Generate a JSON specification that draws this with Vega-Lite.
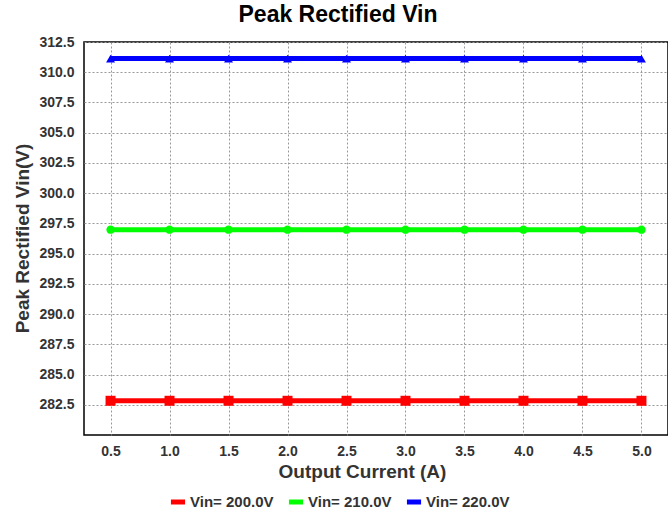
{
  "$schema": "https://vega.github.io/schema/vega-lite/v6.json",
  "autosize": "none",
  "width": 584,
  "height": 393,
  "padding": {"left": 84, "top": 42, "right": 0, "bottom": 75},
  "background": "white",
  "title": {
    "text": "Peak Rectified Vin",
    "font": "Liberation Sans",
    "fontSize": 23,
    "fontWeight": "bold",
    "color": "black",
    "anchor": "middle",
    "frame": "group",
    "dx": -38,
    "offset": 8
  },
  "config": {
    "view": {"stroke": "black", "strokeWidth": 1.5},
    "axis": {
      "labelFont": "Liberation Sans",
      "labelFontWeight": "bold",
      "labelFontSize": 14,
      "labelColor": "#333333",
      "titleFont": "Liberation Sans",
      "titleFontWeight": "bold",
      "titleColor": "#333333",
      "grid": true,
      "gridColor": "#999999",
      "gridDash": [2, 2],
      "gridWidth": 1,
      "ticks": false,
      "domain": false
    }
  },
  "data": {
    "values": [
      {"current": 0.5, "vin": 282.83, "series": "Vin= 200.0V"},
      {"current": 1.0, "vin": 282.83, "series": "Vin= 200.0V"},
      {"current": 1.5, "vin": 282.83, "series": "Vin= 200.0V"},
      {"current": 2.0, "vin": 282.83, "series": "Vin= 200.0V"},
      {"current": 2.5, "vin": 282.83, "series": "Vin= 200.0V"},
      {"current": 3.0, "vin": 282.83, "series": "Vin= 200.0V"},
      {"current": 3.5, "vin": 282.83, "series": "Vin= 200.0V"},
      {"current": 4.0, "vin": 282.83, "series": "Vin= 200.0V"},
      {"current": 4.5, "vin": 282.83, "series": "Vin= 200.0V"},
      {"current": 5.0, "vin": 282.83, "series": "Vin= 200.0V"},
      {"current": 0.5, "vin": 296.98, "series": "Vin= 210.0V"},
      {"current": 1.0, "vin": 296.98, "series": "Vin= 210.0V"},
      {"current": 1.5, "vin": 296.98, "series": "Vin= 210.0V"},
      {"current": 2.0, "vin": 296.98, "series": "Vin= 210.0V"},
      {"current": 2.5, "vin": 296.98, "series": "Vin= 210.0V"},
      {"current": 3.0, "vin": 296.98, "series": "Vin= 210.0V"},
      {"current": 3.5, "vin": 296.98, "series": "Vin= 210.0V"},
      {"current": 4.0, "vin": 296.98, "series": "Vin= 210.0V"},
      {"current": 4.5, "vin": 296.98, "series": "Vin= 210.0V"},
      {"current": 5.0, "vin": 296.98, "series": "Vin= 210.0V"},
      {"current": 0.5, "vin": 311.13, "series": "Vin= 220.0V"},
      {"current": 1.0, "vin": 311.13, "series": "Vin= 220.0V"},
      {"current": 1.5, "vin": 311.13, "series": "Vin= 220.0V"},
      {"current": 2.0, "vin": 311.13, "series": "Vin= 220.0V"},
      {"current": 2.5, "vin": 311.13, "series": "Vin= 220.0V"},
      {"current": 3.0, "vin": 311.13, "series": "Vin= 220.0V"},
      {"current": 3.5, "vin": 311.13, "series": "Vin= 220.0V"},
      {"current": 4.0, "vin": 311.13, "series": "Vin= 220.0V"},
      {"current": 4.5, "vin": 311.13, "series": "Vin= 220.0V"},
      {"current": 5.0, "vin": 311.13, "series": "Vin= 220.0V"}
    ]
  },
  "encoding": {
    "x": {
      "field": "current",
      "type": "quantitative",
      "scale": {"domain": [0.275, 5.225], "nice": false, "zero": false},
      "axis": {
        "title": "Output Current (A)",
        "titleFontSize": 19,
        "values": [0.5, 1.0, 1.5, 2.0, 2.5, 3.0, 3.5, 4.0, 4.5, 5.0],
        "format": ".1f",
        "labelPadding": 9,
        "titleX": 278,
        "titleY": 36,
        "titleBaseline": "middle",
        "titleAlign": "center"
      }
    },
    "y": {
      "field": "vin",
      "type": "quantitative",
      "scale": {"domain": [280, 312.5], "nice": false, "zero": false},
      "axis": {
        "title": "Peak Rectified Vin(V)",
        "titleFontSize": 19,
        "values": [282.5, 285, 287.5, 290, 292.5, 295, 297.5, 300, 302.5, 305, 307.5, 310, 312.5],
        "format": ".1f",
        "labelPadding": 10,
        "titleX": -62,
        "titleY": 196,
        "titleBaseline": "middle",
        "titleAlign": "center",
        "titleAngle": -90
      }
    },
    "color": {
      "field": "series",
      "type": "nominal",
      "scale": {"domain": ["Vin= 200.0V", "Vin= 210.0V", "Vin= 220.0V"], "range": ["#ff0000", "#00ff00", "#0000ff"]},
      "legend": {
        "orient": "none",
        "direction": "horizontal",
        "legendX": 84,
        "legendY": 450,
        "title": null,
        "symbolType": "stroke",
        "symbolStrokeWidth": 5,
        "symbolSize": 200,
        "labelFont": "Liberation Sans",
        "labelFontWeight": "bold",
        "labelFontSize": 15,
        "labelColor": "#333333",
        "labelOffset": 2,
        "columnPadding": 4
      }
    }
  },
  "layer": [
    {"mark": {"type": "line", "strokeWidth": 5}},
    {
      "transform": [{"filter": "datum.series === 'Vin= 200.0V'"}],
      "mark": {"type": "point", "filled": true, "opacity": 1, "shape": "square", "size": 100}
    },
    {
      "transform": [{"filter": "datum.series === 'Vin= 210.0V'"}],
      "mark": {"type": "point", "filled": true, "opacity": 1, "shape": "circle", "size": 70}
    },
    {
      "transform": [{"filter": "datum.series === 'Vin= 220.0V'"}],
      "mark": {"type": "point", "filled": true, "opacity": 1, "shape": "triangle-up", "size": 80}
    }
  ]
}
